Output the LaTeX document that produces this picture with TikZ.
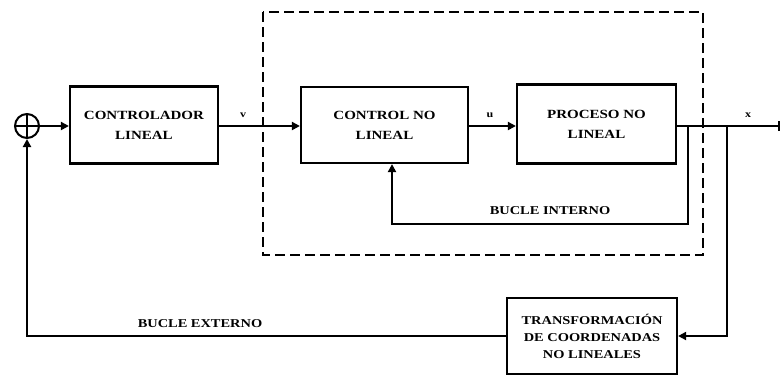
\documentclass[tikz,border=0pt]{standalone}
\usepackage{fontspec}
\setmainfont{Liberation Serif}
\newfontfamily\blockfont[FakeStretch=1.2]{Liberation Serif}
\usetikzlibrary{arrows.meta}

\tikzset{
  block/.style={draw, line width=2.2pt, inner sep=2pt, align=center,
                font=\blockfont\bfseries\fontsize{12.5}{20}\selectfont},
  sig/.style={font=\blockfont\bfseries\fontsize{10}{11}\selectfont},
  loopname/.style={font=\blockfont\bfseries\fontsize{12}{13}\selectfont},
  wire/.style={line width=2pt},
  fwd/.style={wire, -{Triangle[length=8pt,width=8pt]}}
}

\begin{document}
\begin{tikzpicture}[x=1pt, y=-1pt]
  \useasboundingbox (0,0) rectangle (781,378);

  % Dashed frame
  \draw[line width=1.4pt, dash pattern=on 10pt off 5pt] (263,12) rectangle (703,255);

  % Blocks
  \node[draw, circle, line width=2pt, minimum size=24pt, inner sep=0pt,
        path picture={\draw[line width=2pt]
          (path picture bounding box.north) -- (path picture bounding box.south)
          (path picture bounding box.west) -- (path picture bounding box.east);}]
        (sum) at (27,126) {};
  \node[block, minimum width=148pt, minimum height=77pt] (ctrl) at (144,125) {CONTROLADOR\\LINEAL};
  \node[block, minimum width=167pt, minimum height=76pt] (cnl) at (384.5,125) {CONTROL NO\\LINEAL};
  \node[block, minimum width=159pt, minimum height=79pt] (proc) at (596.5,124) {PROCESO NO\\LINEAL};
  \node[block, minimum width=170pt, minimum height=76pt,
        font=\blockfont\bfseries\fontsize{12}{17}\selectfont] (trans) at (592,336)
        {TRANSFORMACIÓN\\DE COORDENADAS\\NO LINEALES};

  % Forward path
  \coordinate (tin) at (688,126);
  \coordinate (tout) at (727,126);
  \coordinate (xend) at (780,126);
  \draw[fwd] (sum) -- (ctrl.west |- sum);
  \draw[fwd] (ctrl.east |- sum) -- (cnl.west |- sum);
  \draw[fwd] (cnl.east |- sum) -- (proc.west |- sum);
  \draw[wire, -{Bar[width=10pt]}] (proc.east |- sum) -- (xend);
  \node[sig] (vlab) at (243,115) {v};
  \node[sig] (ulab) at (490,115) {u};
  \node[sig] (xlab) at (748,115) {x};

  % Inner loop
  \coordinate (ib) at (688,224);
  \coordinate (ia) at (392,224);
  \draw[fwd] (tin) -- (ib) -- (ia) -- (ia |- cnl.south);
  \node[loopname] (inner) at (550,211) {BUCLE INTERNO};

  % Outer loop
  \coordinate (ob) at (727,336);
  \coordinate (oa) at (27,336);
  \draw[fwd] (tout) -- (ob) -- (trans.east);
  \draw[fwd] (trans.west) -- (oa) -- (sum.south);
  \node[loopname] (outer) at (200,324) {BUCLE EXTERNO};
\end{tikzpicture}
\end{document}
